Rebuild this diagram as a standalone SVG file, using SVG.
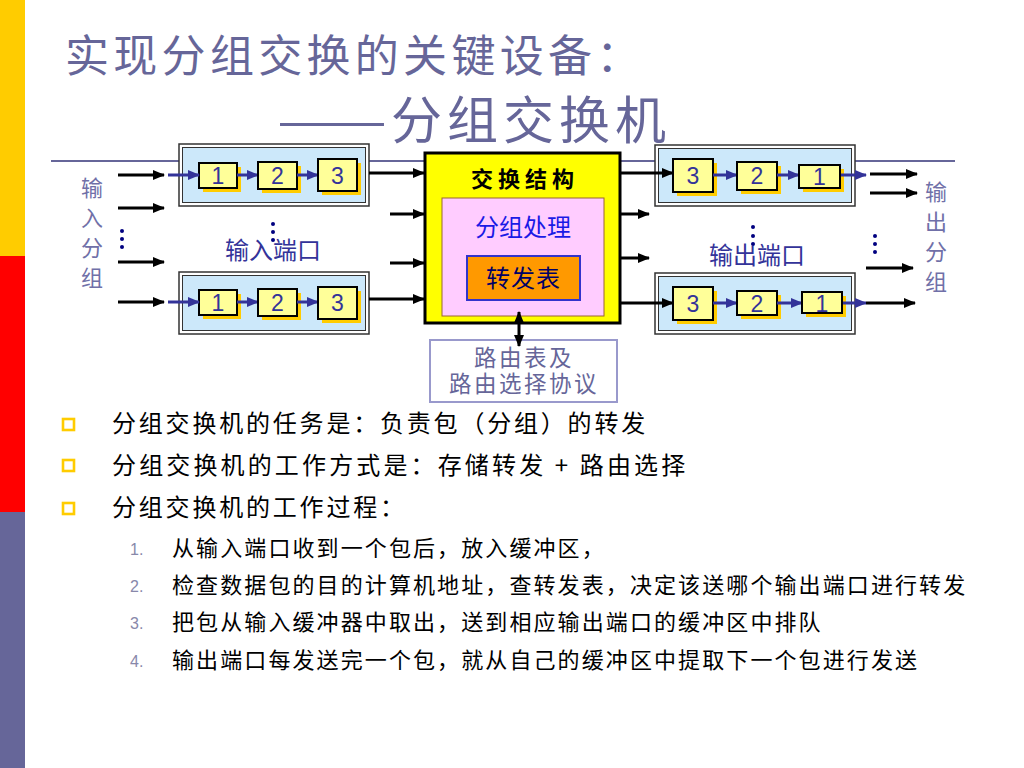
<svg xmlns="http://www.w3.org/2000/svg" width="1024" height="768" viewBox="0 0 1024 768">
<defs>
<style>
.cjk{font-family:"Noto Sans CJK SC","Noto Sans",sans-serif}
.num{font-family:"Liberation Sans",Arial,sans-serif;font-size:23px;fill:#333399;text-anchor:middle}
.pk{fill:#FFFF99;stroke:#000;stroke-width:2}
.sh{fill:#FFCC00}
.port{fill:#FFFFFF;stroke:#333;stroke-width:1.5}
.porti{fill:#CCE8FA;stroke:#333;stroke-width:1}
.ab{stroke:#000;stroke-width:3;fill:none;marker-end:url(#mb)}
.au{stroke:#333399;stroke-width:3;fill:none;marker-end:url(#mu)}
.dot{fill:#000080}
.bul{fill:none;stroke:#FFCC00;stroke-width:2.6}
.bt{font-size:24px;fill:#000;letter-spacing:2.8px}
.st{font-size:22px;fill:#000;letter-spacing:2.1px}
.sn{font-family:"Liberation Sans",Arial,sans-serif;font-size:16px;fill:#8888AA}
.lbl{font-size:22px;fill:#7070A8;text-anchor:middle}
.rt{font-size:22.5px;fill:#666699;text-anchor:middle;letter-spacing:2.5px}
</style>
<marker id="mb" markerWidth="12" markerHeight="10" refX="11" refY="5" orient="auto" markerUnits="userSpaceOnUse"><path d="M0,0 L12,5 L0,10 z" fill="#000"/></marker>
<marker id="mu" markerWidth="12" markerHeight="10" refX="11" refY="5" orient="auto" markerUnits="userSpaceOnUse"><path d="M0,0 L12,5 L0,10 z" fill="#333399"/></marker>
<marker id="md" markerWidth="12" markerHeight="10" refX="11" refY="5" orient="auto-start-reverse" markerUnits="userSpaceOnUse"><path d="M0,0 L12,5 L0,10 z" fill="#000"/></marker>
</defs>
<rect x="0" y="0" width="1024" height="768" fill="#FFFFFF"/>
<g id="sidebar">
<rect x="0" y="0" width="25" height="256" fill="#FFCC00"/>
<rect x="0" y="256" width="25" height="256" fill="#FF0000"/>
<rect x="0" y="512" width="25" height="256" fill="#666699"/>
</g>
<g id="title" class="cjk" fill="#666699">
<text x="65" y="72" font-size="44" letter-spacing="4.3">实现分组交换的关键设备：</text>
<text x="277" y="139" font-size="50" textLength="110" lengthAdjust="spacingAndGlyphs">——</text>
<text x="391" y="139" font-size="51" letter-spacing="5">分组交换机</text>
</g>
<line x1="51" y1="161" x2="955" y2="161" stroke="#666699" stroke-width="2"/>

<g id="input-port-1">
<rect class="port" x="179" y="144" width="190" height="62"/>
<rect class="porti" x="182.5" y="147.5" width="183" height="55"/>
<rect class="sh" x="203" y="167" width="38" height="25"/>
<rect class="pk" x="199" y="163" width="38" height="25"/>
<text class="num" x="218" y="184">1</text>
<line class="au" x1="237" y1="175" x2="258" y2="175"/>
<rect class="sh" x="262" y="166" width="39" height="27"/>
<rect class="pk" x="258" y="162" width="39" height="27"/>
<text class="num" x="277.5" y="184">2</text>
<line class="au" x1="297" y1="175" x2="318" y2="175"/>
<rect class="sh" x="322" y="163" width="39" height="32"/>
<rect class="pk" x="318" y="159" width="39" height="32"/>
<text class="num" x="337.5" y="184">3</text>
</g>
<g id="input-port-2">
<rect class="port" x="179" y="272" width="190" height="62"/>
<rect class="porti" x="182.5" y="275.5" width="183" height="55"/>
<rect class="sh" x="203" y="294" width="38" height="25"/>
<rect class="pk" x="199" y="290" width="38" height="25"/>
<text class="num" x="218" y="311">1</text>
<line class="au" x1="237" y1="302" x2="258" y2="302"/>
<rect class="sh" x="262" y="293" width="39" height="27"/>
<rect class="pk" x="258" y="289" width="39" height="27"/>
<text class="num" x="277.5" y="311">2</text>
<line class="au" x1="297" y1="302" x2="318" y2="302"/>
<rect class="sh" x="322" y="291" width="39" height="32"/>
<rect class="pk" x="318" y="287" width="39" height="32"/>
<text class="num" x="337.5" y="311">3</text>
</g>
<g id="output-port-1">
<rect class="port" x="655" y="145" width="200" height="61"/>
<rect class="porti" x="658.5" y="148.5" width="193" height="54"/>
<rect class="sh" x="677" y="163" width="40" height="33"/>
<rect class="pk" x="673" y="159" width="40" height="33"/>
<text class="num" x="693" y="184">3</text>
<line class="au" x1="713" y1="175" x2="737" y2="175"/>
<rect class="sh" x="741" y="166" width="40" height="28"/>
<rect class="pk" x="737" y="162" width="40" height="28"/>
<text class="num" x="757" y="184">2</text>
<line class="au" x1="777" y1="175" x2="799" y2="175"/>
<rect class="sh" x="803" y="169" width="41" height="23"/>
<rect class="pk" x="799" y="165" width="41" height="23"/>
<text class="num" x="819.5" y="185">1</text>
</g>
<g id="output-port-2">
<rect class="port" x="655" y="273" width="200" height="61"/>
<rect class="porti" x="658.5" y="276.5" width="193" height="54"/>
<rect class="sh" x="677" y="291" width="40" height="33"/>
<rect class="pk" x="673" y="287" width="40" height="33"/>
<text class="num" x="693" y="312">3</text>
<line class="au" x1="713" y1="303" x2="737" y2="303"/>
<rect class="sh" x="741" y="295" width="40" height="24"/>
<rect class="pk" x="737" y="291" width="40" height="24"/>
<text class="num" x="757" y="312">2</text>
<line class="au" x1="777" y1="303" x2="802" y2="303"/>
<rect class="sh" x="806" y="296" width="40" height="21"/>
<rect class="pk" x="802" y="292" width="40" height="21"/>
<text class="num" x="822" y="312">1</text>
</g>

<g id="switch-fabric">
<rect x="425" y="153" width="195" height="170" fill="#FFFF00" stroke="#000" stroke-width="3"/>
<text class="cjk" x="525" y="187" font-size="22" font-weight="bold" fill="#000" text-anchor="middle" letter-spacing="5">交换结构</text>
</g>
<g id="packet-processing">
<rect x="442" y="198" width="162" height="118" fill="#FFCCFF" stroke="#996633" stroke-width="1"/>
<text class="cjk" x="523" y="236" font-size="24" fill="#1A1AE6" text-anchor="middle">分组处理</text>
</g>
<g id="forwarding-table">
<rect x="467" y="256" width="113" height="44" fill="#FF9900" stroke="#3333CC" stroke-width="2"/>
<text class="cjk" x="523.5" y="287" font-size="24" fill="#000066" text-anchor="middle" letter-spacing="1">转发表</text>
</g>
<g id="routing" class="cjk">
<rect x="430" y="340" width="187" height="62" fill="#FFFFFF" stroke="#9999CC" stroke-width="2"/>
<text class="rt"><tspan x="524" y="366">路由表及</tspan><tspan x="524" y="392">路由选择协议</tspan></text>
</g>

<g id="labels" class="cjk">
<text class="lbl" x="92" y="196">输</text>
<text class="lbl" x="92" y="226">入</text>
<text class="lbl" x="92" y="256">分</text>
<text class="lbl" x="92" y="286">组</text>
<text class="lbl" x="936" y="200">输</text>
<text class="lbl" x="936" y="230">出</text>
<text class="lbl" x="936" y="260">分</text>
<text class="lbl" x="936" y="290">组</text>
<text x="273" y="259" font-size="24" fill="#333399" text-anchor="middle">输入端口</text>
<text x="757" y="264" font-size="24" fill="#333399" text-anchor="middle">输出端口</text>
</g>
<g id="dots">
<circle class="dot" cx="122" cy="231" r="2"/><circle class="dot" cx="122" cy="239" r="2"/><circle class="dot" cx="122" cy="247" r="2"/>
<circle class="dot" cx="273" cy="224" r="2"/><circle class="dot" cx="273" cy="232" r="2"/><circle class="dot" cx="273" cy="240" r="2"/>
<circle class="dot" cx="753" cy="227" r="2"/><circle class="dot" cx="753" cy="236" r="2"/><circle class="dot" cx="753" cy="244" r="2"/>
<circle class="dot" cx="875" cy="236" r="2"/><circle class="dot" cx="875" cy="244" r="2"/><circle class="dot" cx="875" cy="252" r="2"/>
</g>

<g id="connectors">
<line class="ab" x1="118" y1="175" x2="164" y2="175"/>
<line class="ab" x1="118" y1="208" x2="164" y2="208"/>
<line class="ab" x1="118" y1="262" x2="164" y2="262"/>
<line class="ab" x1="118" y1="302" x2="164" y2="302"/>
<line class="au" x1="168" y1="175" x2="199" y2="175"/>
<line class="au" x1="168" y1="302" x2="199" y2="302"/>
<line class="ab" x1="369" y1="173" x2="424" y2="173"/>
<line class="ab" x1="390" y1="214" x2="424" y2="214"/>
<line class="ab" x1="390" y1="263" x2="424" y2="263"/>
<line class="ab" x1="369" y1="299" x2="424" y2="299"/>
<line class="ab" x1="621" y1="173" x2="673" y2="173"/>
<line class="ab" x1="621" y1="214" x2="649" y2="214"/>
<line class="ab" x1="621" y1="258" x2="649" y2="258"/>
<line class="ab" x1="621" y1="303" x2="673" y2="303"/>
<line class="au" x1="841" y1="175" x2="866" y2="175"/>
<line class="au" x1="843" y1="303" x2="866" y2="303"/>
<line class="ab" x1="870" y1="174" x2="917" y2="174"/>
<line class="ab" x1="870" y1="193" x2="917" y2="193"/>
<line class="ab" x1="866" y1="268" x2="913" y2="268"/>
<line class="ab" x1="866" y1="303" x2="915" y2="303"/>
<line x1="519" y1="312" x2="519" y2="346" stroke="#000" stroke-width="3" marker-start="url(#md)" marker-end="url(#md)"/>
</g>

<g id="bullets" class="cjk">
<rect class="bul" x="63" y="419" width="11" height="11"/>
<rect class="bul" x="63" y="460" width="11" height="11"/>
<rect class="bul" x="63" y="503" width="11" height="11"/>
<text class="bt" x="112" y="432">分组交换机的任务是：负责包（分组）的转发</text>
<text class="bt" x="112" y="474" textLength="576" lengthAdjust="spacing">分组交换机的工作方式是：存储转发 + 路由选择</text>
<text class="bt" x="112" y="516">分组交换机的工作过程：</text>
<text class="sn" x="130" y="555">1.</text>
<text class="sn" x="130" y="592">2.</text>
<text class="sn" x="130" y="629">3.</text>
<text class="sn" x="130" y="667">4.</text>
<text class="st" x="172" y="556">从输入端口收到一个包后，放入缓冲区，</text>
<text class="st" x="172" y="593">检查数据包的目的计算机地址，查转发表，决定该送哪个输出端口进行转发</text>
<text class="st" x="172" y="630">把包从输入缓冲器中取出，送到相应输出端口的缓冲区中排队</text>
<text class="st" x="172" y="668">输出端口每发送完一个包，就从自己的缓冲区中提取下一个包进行发送</text>
</g>
</svg>
